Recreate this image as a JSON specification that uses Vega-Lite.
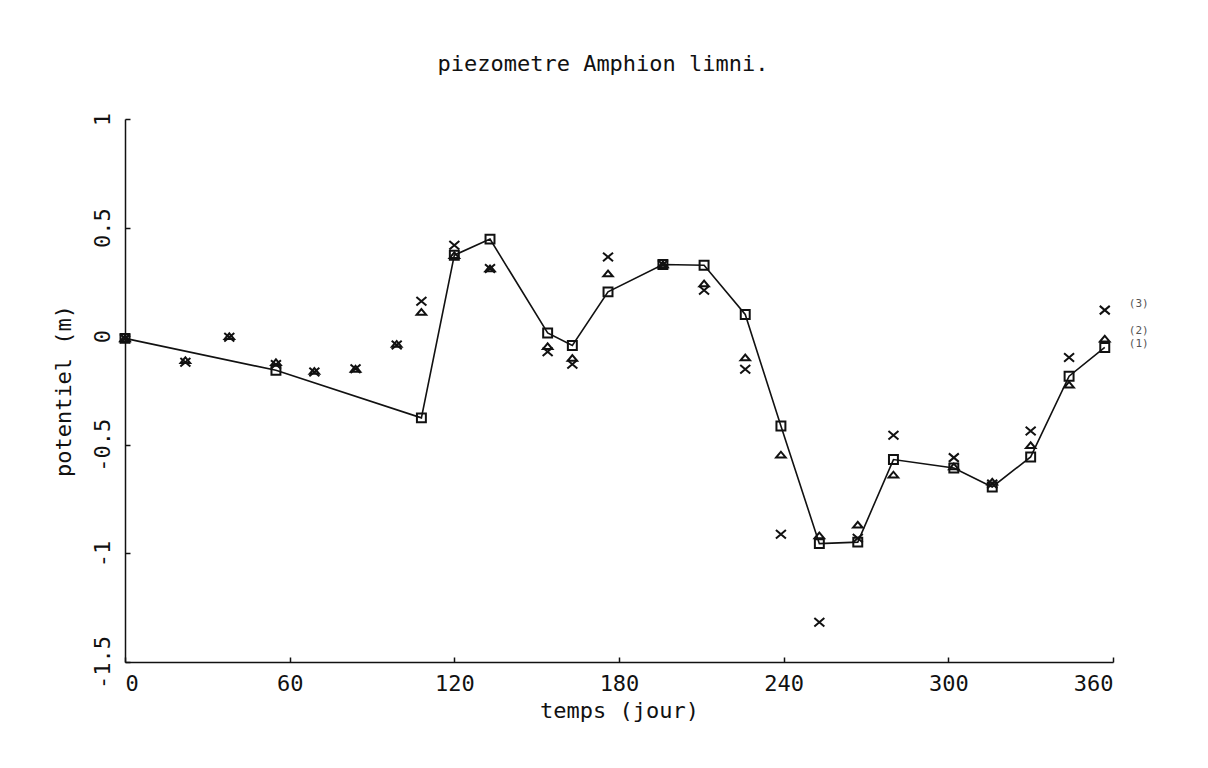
{
  "$schema": "https://vega.github.io/schema/vega-lite/v6.json",
  "width": 988,
  "height": 543,
  "autosize": {"type": "none"},
  "padding": {"left": 125, "top": 119, "right": 95, "bottom": 106},
  "background": "white",
  "config": {
    "view": {"stroke": null},
    "font": "DejaVu Sans Mono"
  },
  "title": {
    "text": "piezometre Amphion limni.",
    "font": "DejaVu Sans Mono",
    "fontSize": 22,
    "fontWeight": "normal",
    "color": "#111",
    "anchor": "middle",
    "frame": "group",
    "baseline": "alphabetic",
    "offset": 19,
    "dx": -16
  },
  "data": {
    "values": [
      {"d": 0, "v": -0.01, "s": "1"},
      {"d": 55, "v": -0.157, "s": "1"},
      {"d": 108, "v": -0.376, "s": "1"},
      {"d": 120, "v": 0.373, "s": "1"},
      {"d": 133, "v": 0.447, "s": "1"},
      {"d": 154, "v": 0.015, "s": "1"},
      {"d": 163, "v": -0.043, "s": "1"},
      {"d": 176, "v": 0.204, "s": "1"},
      {"d": 196, "v": 0.33, "s": "1"},
      {"d": 211, "v": 0.327, "s": "1"},
      {"d": 226, "v": 0.1, "s": "1"},
      {"d": 239, "v": -0.413, "s": "1"},
      {"d": 253, "v": -0.955, "s": "1"},
      {"d": 267, "v": -0.948, "s": "1"},
      {"d": 280, "v": -0.568, "s": "1"},
      {"d": 302, "v": -0.607, "s": "1"},
      {"d": 316, "v": -0.694, "s": "1"},
      {"d": 330, "v": -0.556, "s": "1"},
      {"d": 344, "v": -0.184, "s": "1"},
      {"d": 357, "v": -0.052, "s": "1"},

      {"d": 0, "v": -0.01, "s": "2"},
      {"d": 22, "v": -0.11, "s": "2"},
      {"d": 38, "v": 0.0, "s": "2"},
      {"d": 55, "v": -0.12, "s": "2"},
      {"d": 69, "v": -0.16, "s": "2"},
      {"d": 84, "v": -0.15, "s": "2"},
      {"d": 99, "v": -0.035, "s": "2"},
      {"d": 108, "v": 0.112, "s": "2"},
      {"d": 120, "v": 0.373, "s": "2"},
      {"d": 133, "v": 0.312, "s": "2"},
      {"d": 154, "v": -0.046, "s": "2"},
      {"d": 163, "v": -0.1, "s": "2"},
      {"d": 176, "v": 0.289, "s": "2"},
      {"d": 196, "v": 0.33, "s": "2"},
      {"d": 211, "v": 0.243, "s": "2"},
      {"d": 226, "v": -0.098, "s": "2"},
      {"d": 239, "v": -0.545, "s": "2"},
      {"d": 253, "v": -0.917, "s": "2"},
      {"d": 267, "v": -0.868, "s": "2"},
      {"d": 280, "v": -0.637, "s": "2"},
      {"d": 302, "v": -0.6, "s": "2"},
      {"d": 316, "v": -0.67, "s": "2"},
      {"d": 330, "v": -0.502, "s": "2"},
      {"d": 344, "v": -0.223, "s": "2"},
      {"d": 357, "v": -0.011, "s": "2"},

      {"d": 0, "v": -0.01, "s": "3"},
      {"d": 22, "v": -0.12, "s": "3"},
      {"d": 38, "v": -0.005, "s": "3"},
      {"d": 55, "v": -0.13, "s": "3"},
      {"d": 69, "v": -0.165, "s": "3"},
      {"d": 84, "v": -0.15, "s": "3"},
      {"d": 99, "v": -0.04, "s": "3"},
      {"d": 108, "v": 0.161, "s": "3"},
      {"d": 120, "v": 0.419, "s": "3"},
      {"d": 133, "v": 0.312, "s": "3"},
      {"d": 154, "v": -0.072, "s": "3"},
      {"d": 163, "v": -0.129, "s": "3"},
      {"d": 176, "v": 0.365, "s": "3"},
      {"d": 196, "v": 0.33, "s": "3"},
      {"d": 211, "v": 0.212, "s": "3"},
      {"d": 226, "v": -0.152, "s": "3"},
      {"d": 239, "v": -0.912, "s": "3"},
      {"d": 253, "v": -1.317, "s": "3"},
      {"d": 267, "v": -0.93, "s": "3"},
      {"d": 280, "v": -0.456, "s": "3"},
      {"d": 302, "v": -0.559, "s": "3"},
      {"d": 316, "v": -0.68, "s": "3"},
      {"d": 330, "v": -0.436, "s": "3"},
      {"d": 344, "v": -0.098, "s": "3"},
      {"d": 357, "v": 0.12, "s": "3"}
    ]
  },
  "encoding": {
    "x": {
      "field": "d",
      "type": "quantitative",
      "scale": {"domain": [0, 360], "nice": false, "zero": false},
      "axis": {
        "title": "temps (jour)",
        "values": [0, 60, 120, 180, 240, 300, 360],
        "grid": false,
        "tickSize": -5,
        "labelPadding": 16,
        "labelFontSize": 22,
        "titleFontSize": 22,
        "titleFontWeight": "normal",
        "labelFont": "DejaVu Sans Mono",
        "titleFont": "DejaVu Sans Mono",
        "labelColor": "#111",
        "titleColor": "#111",
        "domainColor": "#111",
        "tickColor": "#111",
        "domainWidth": 1.5,
        "tickWidth": 1.5,
        "titlePadding": 6
      }
    },
    "y": {
      "field": "v",
      "type": "quantitative",
      "scale": {"domain": [-1.5, 1], "nice": false, "zero": false},
      "axis": {
        "title": "potentiel (m)",
        "values": [-1.5, -1, -0.5, 0, 0.5, 1],
        "labelExpr": "replace(format(datum.value, '~g'), '−', '-')",
        "grid": false,
        "tickSize": -5,
        "labelAngle": 270,
        "labelPadding": 16,
        "labelFontSize": 22,
        "titleFontSize": 22,
        "titleFontWeight": "normal",
        "labelFont": "DejaVu Sans Mono",
        "titleFont": "DejaVu Sans Mono",
        "labelColor": "#111",
        "titleColor": "#111",
        "domainColor": "#111",
        "tickColor": "#111",
        "domainWidth": 1.5,
        "tickWidth": 1.5,
        "titlePadding": 16
      }
    }
  },
  "layer": [
    {
      "transform": [{"filter": "datum.s == '1'"}],
      "mark": {"type": "line", "color": "#111", "strokeWidth": 1.6},
      "encoding": {}
    },
    {
      "mark": {"type": "point", "filled": false, "strokeWidth": 2, "color": "#111", "opacity": 1},
      "encoding": {
        "shape": {
          "field": "s",
          "type": "nominal",
          "scale": {
            "domain": ["1", "2", "3"],
            "range": ["square", "M-1,0.6L0,-0.6L1,0.6Z", "M-1,-0.85L1,0.85M-1,0.85L1,-0.85"]
          },
          "legend": null
        },
        "size": {
          "field": "s",
          "type": "nominal",
          "scale": {"domain": ["1", "2", "3"], "range": [80, 100, 100]},
          "legend": null
        }
      }
    },
    {
      "transform": [
        {"filter": "datum.d == 357 && datum.s == '3'"},
        {"calculate": "'(' + datum.s + ')'", "as": "lab"}
      ],
      "mark": {"type": "text", "dx": 34, "dy": -6, "fontSize": 11, "color": "#555", "align": "center", "font": "DejaVu Sans Mono"},
      "encoding": {"text": {"field": "lab"}}
    },
    {
      "transform": [
        {"filter": "datum.d == 357 && datum.s == '2'"},
        {"calculate": "'(' + datum.s + ')'", "as": "lab"}
      ],
      "mark": {"type": "text", "dx": 34, "dy": -8, "fontSize": 11, "color": "#555", "align": "center", "font": "DejaVu Sans Mono"},
      "encoding": {"text": {"field": "lab"}}
    },
    {
      "transform": [
        {"filter": "datum.d == 357 && datum.s == '1'"},
        {"calculate": "'(' + datum.s + ')'", "as": "lab"}
      ],
      "mark": {"type": "text", "dx": 34, "dy": -3, "fontSize": 11, "color": "#555", "align": "center", "font": "DejaVu Sans Mono"},
      "encoding": {"text": {"field": "lab"}}
    }
  ]
}
